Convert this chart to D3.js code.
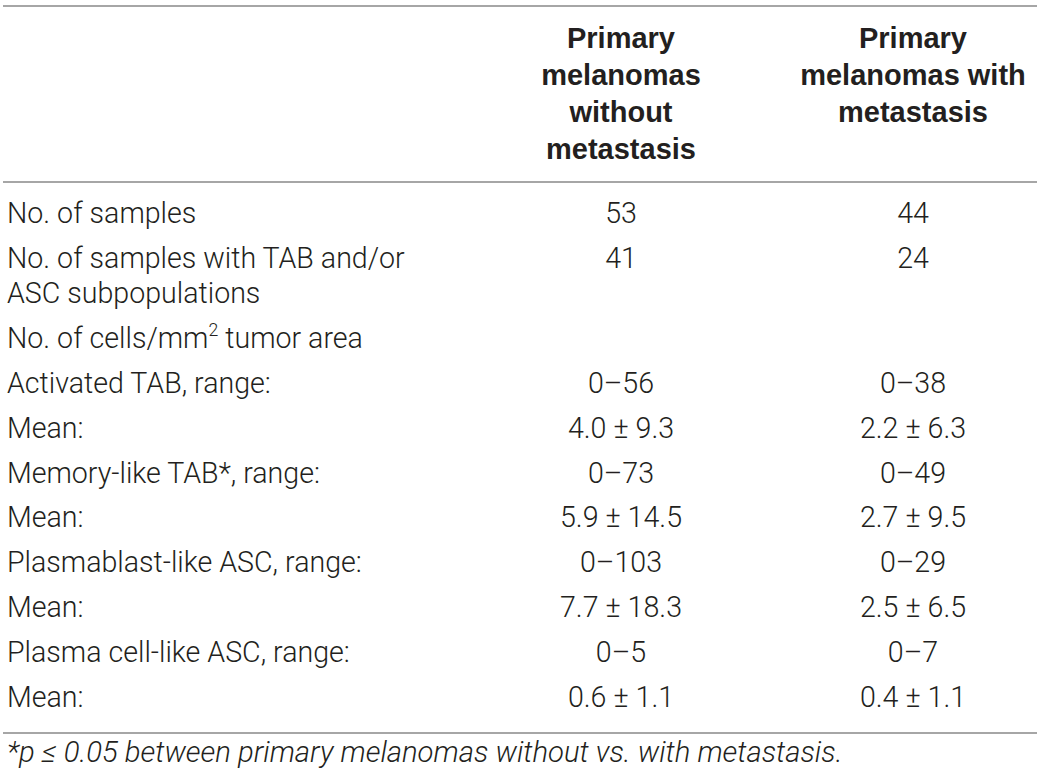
<!DOCTYPE html>
<html><head><meta charset="utf-8">
<script src="https://cdn.jsdelivr.net/npm/d3@7"></script>
<style>
html,body{margin:0;padding:0;background:#fff;}
svg{display:block;}
</style></head>
<body>
<svg id="t" width="1040" height="777"></svg>
<script>
// Table content
const headerCol1 = ["Primary", "melanomas", "without", "metastasis"];
const headerCol2 = ["Primary", "melanomas with", "metastasis"];
const rowLabels = [
  ["No. of samples"],
  ["No. of samples with TAB and/or", "ASC subpopulations"],
  ["No. of cells/mm^2 tumor area"],
  ["Activated TAB, range:"],
  ["Mean:"],
  ["Memory-like TAB*, range:"],
  ["Mean:"],
  ["Plasmablast-like ASC, range:"],
  ["Mean:"],
  ["Plasma cell-like ASC, range:"],
  ["Mean:"]
];
const withoutMetastasis = ["53", "41", "", "0–56", "4.0 ± 9.3", "0–73", "5.9 ± 14.5", "0–103", "7.7 ± 18.3", "0–5", "0.6 ± 1.1"];
const withMetastasis = ["44", "24", "", "0–38", "2.2 ± 6.3", "0–49", "2.7 ± 9.5", "0–29", "2.5 ± 6.5", "0–7", "0.4 ± 1.1"];
const footnote = "*p ≤ 0.05 between primary melanomas without vs. with metastasis.";

const svg = d3.select("#t");
const textColor = "#231f20";
const ruleColor = "#a6a6a6";
const bodyFont = "Roboto, 'Liberation Sans', sans-serif";

const x = d3.scaleOrdinal().domain(["label", "c1", "c2"]).range([7, 621, 913]);

// font fitting helper (matches reference text widths)
function fitSize(str, attrs, target) {
  const t = svg.append("text").attr("x", 0).attr("y", -100).attr("font-size", 20);
  Object.entries(attrs).forEach(([k, v]) => t.attr(k, v));
  t.text(str);
  const w = t.node().getComputedTextLength();
  t.remove();
  return 20 * target / w;
}
const bodyAttrs = {"font-family": bodyFont, "font-weight": 300};
const bodySize = Math.min(29, fitSize("No. of samples with TAB and/or", bodyAttrs, 398));
const fnAttrs = {"font-family": bodyFont, "font-weight": 300, "font-style": "italic"};
const fnSize = Math.min(30, fitSize(footnote, fnAttrs, 836));

// rules
const rules = [6, 182, 733];
svg.selectAll("line.rule").data(rules).enter().append("line")
  .attr("x1", 3).attr("x2", 1037).attr("y1", d => d).attr("y2", d => d)
  .attr("stroke", ruleColor).attr("stroke-width", 2);

// header
const hy = d3.scaleLinear().domain([0, 1]).range([47.5, 84.5]);
function header(lines, key) {
  svg.append("g").selectAll("text").data(lines).enter().append("text")
    .attr("x", x(key)).attr("y", (d, i) => hy(i))
    .attr("text-anchor", "middle")
    .attr("font-family", "'Liberation Sans', Arial, sans-serif")
    .attr("font-weight", "bold").attr("font-size", 29)
    .attr("fill", textColor).text(d => d);
}
header(headerCol1, "c1");
header(headerCol2, "c2");

// body rows
const rowGap = 44.9, lineGap = 35;
let ys = [];
let acc = 223;
rowLabels.forEach((r, i) => { ys.push(acc); acc += rowGap + (r.length - 1) * lineGap; });

const rows = svg.append("g").selectAll("g").data(rowLabels).enter().append("g");
rows.each(function(lines, i) {
  const g = d3.select(this);
  lines.forEach((ln, j) => {
    const t = g.append("text").attr("x", x("label")).attr("y", ys[i] + j * lineGap)
      .attr("font-family", bodyFont).attr("font-weight", 300).attr("font-size", bodySize)
      .attr("fill", textColor);
    if (ln.includes("^2")) {
      const parts = ln.split("^2");
      t.append("tspan").text(parts[0]);
      t.append("tspan").text("2").attr("font-size", bodySize * 0.62).attr("dy", -bodySize * 0.42);
      t.append("tspan").text(parts[1]).attr("dy", bodySize * 0.42);
    } else t.text(ln);
  });
  [["c1", withoutMetastasis[i]], ["c2", withMetastasis[i]]].forEach(([k, v]) => {
    g.append("text").attr("x", x(k)).attr("y", ys[i]).attr("text-anchor", "middle")
      .attr("font-family", bodyFont).attr("font-weight", 300).attr("font-size", bodySize)
      .attr("fill", textColor).text(v);
  });
});

// footnote
svg.append("text").attr("x", 7).attr("y", 762)
  .attr("font-family", bodyFont).attr("font-weight", 300).attr("font-style", "italic")
  .attr("font-size", fnSize).attr("fill", textColor).text(footnote);
</script>
</body></html>
